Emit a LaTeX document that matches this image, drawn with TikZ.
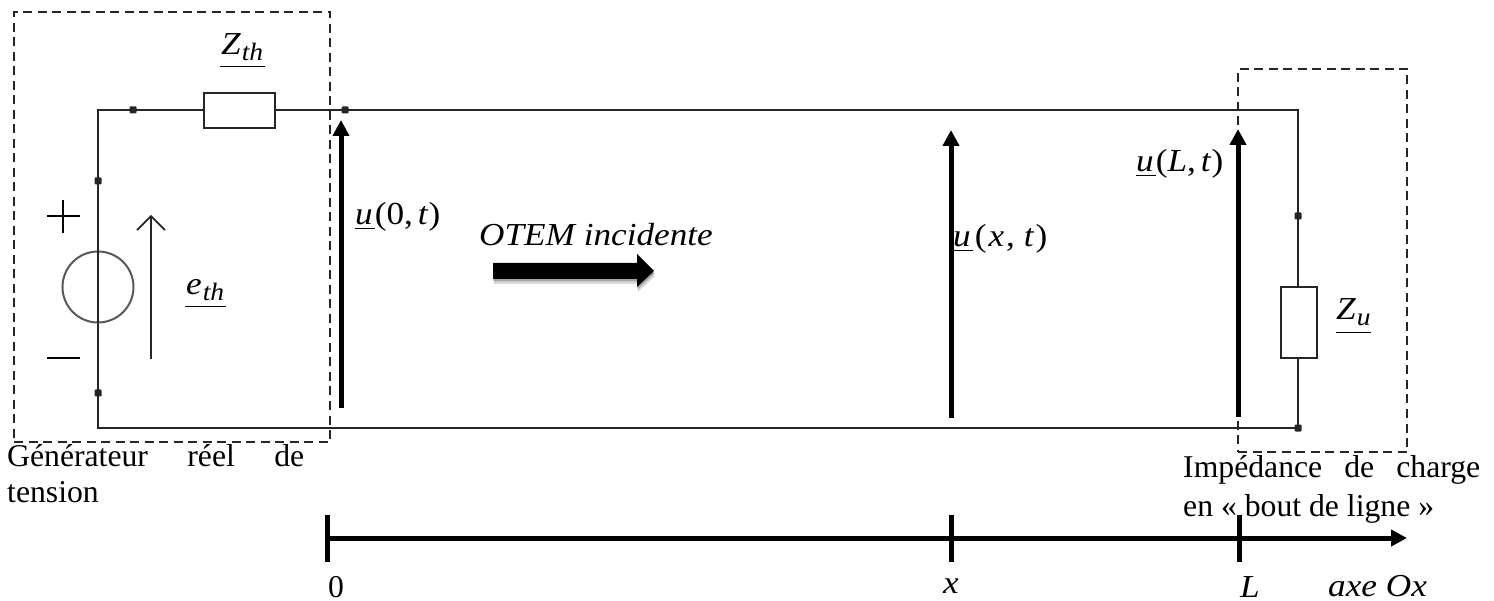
\documentclass[tikz,border=0pt]{standalone}
\usepackage{fontspec}
\setmainfont{Liberation Serif}
\newfontfamily\mfam[FakeStretch=1.1]{Liberation Serif}
\usetikzlibrary{arrows.meta}
\newcommand{\tsz}{\fontsize{31.7}{36}\selectfont}
\newcommand{\msz}{\mfam\fontsize{32}{36}\selectfont}
\newcommand{\ssz}{\fontsize{25}{28}\selectfont}
\newcommand{\vi}[1]{{\itshape #1}}
\newcommand{\subt}[1]{\raisebox{-6pt}{\ssz\itshape #1}}
\tikzset{
  x=1pt,y=-1pt,
  wire/.style={draw=black!85,line width=2.1pt},
  boxz/.style={draw=black!85,line width=2pt,fill=white,inner sep=0pt,minimum width=#1},
  dashbox/.style={draw=black!85,line width=1.9pt,dash pattern=on 9pt off 5.5pt},
  thick arrow/.style={line width=5pt,-{Triangle[length=16pt,width=16pt]}},
  thin arrow/.style={draw=black!85,line width=1.8pt,-{Straight Barb[length=14pt,width=28pt,line width=1.6pt]}},
  tickline/.style={line width=5pt},
  dotm/.style={rectangle,rounded corners=1pt,fill=black!85,inner sep=0pt,minimum size=7pt},
  txt/.style={anchor=base west,inner sep=0pt,font=\tsz},
  mth/.style={anchor=base west,inner sep=0pt,font=\msz},
  ulin/.style={line width=1.7pt}
}
\begin{document}
\begin{tikzpicture}
\useasboundingbox (0,0) rectangle (1494,601);
% dashed enclosures
\node[dashbox,minimum width=316pt,minimum height=430pt,inner sep=0pt] (gen) at (172,227) {};
\node[dashbox,minimum width=169pt,minimum height=383pt,inner sep=0pt] (chg) at (1322.5,260.5) {};
% wiring
\coordinate (tl) at (98,110); \coordinate (tr) at (1298,110);
\coordinate (br) at (1298,428); \coordinate (bl) at (98,428);
\draw[wire] (tl) -- (tr) -- (br) -- (bl) -- cycle;
\node[boxz=71pt,minimum height=35pt] (zth) at (239.5,110.5) {};
\node[boxz=36pt,minimum height=71pt] (zu) at (1298.5,322.5) {};
\node[draw=black!65,line width=2pt,circle,minimum size=71pt,inner sep=0pt] (src) at (98,287) {};
\draw[wire] (src.north) -- (src.south);
\foreach \n/\p in {d1/{133,110},d2/{345,110},d3/{98,181},d4/{98,393},d5/{1298,216},d6/{1298,428}}
  \node[dotm] (\n) at (\p) {};
% plus and minus
\coordinate (pa) at (47,216); \coordinate (pb) at (80,216);
\coordinate (pc) at (63,200); \coordinate (pd) at (63,233);
\coordinate (ma) at (47,358); \coordinate (mb) at (80,358);
\draw[line width=1.8pt] (pa) -- (pb) (pc) -- (pd) (ma) -- (mb);
% thin source arrow
\coordinate (ea) at (151,359); \coordinate (eb) at (151,215);
\draw[thin arrow] (ea) -- (eb);
% thick voltage arrows
\coordinate (u0a) at (341,408); \coordinate (u0b) at (341,120);
\coordinate (uxa) at (951,418); \coordinate (uxb) at (951,130);
\coordinate (uLa) at (1238,417); \coordinate (uLb) at (1238,129);
\draw[thick arrow] (u0a) -- (u0b);
\draw[thick arrow] (uxa) -- (uxb);
\draw[thick arrow] (uLa) -- (uLb);
% fat arrow
\fill[black!15] (494,268) -- (638,268) -- (638,259) -- (655,276) -- (638,292) -- (638,284) -- (494,284) -- cycle;
\fill[black!35] (493.5,265.5) -- (637.5,265.5) -- (637.5,256.5) -- (654.5,273.5) -- (637.5,289.5) -- (637.5,281.5) -- (493.5,281.5) -- cycle;
\fill (493,263) -- (637,263) -- (637,254) -- (654,271) -- (637,287) -- (637,279) -- (493,279) -- cycle;
% axis
\coordinate (ax0) at (327,538); \coordinate (ax1) at (1407,538);
\draw[line width=5pt,-{Triangle[length=16pt,width=16pt]}] (ax0) -- (ax1);
\coordinate (t0a) at (327,515); \coordinate (t0b) at (327,562);
\coordinate (t1a) at (951,515); \coordinate (t1b) at (951,562);
\coordinate (t2a) at (1239,515); \coordinate (t2b) at (1239,562);
\draw[tickline] (t0a) -- (t0b) (t1a) -- (t1b) (t2a) -- (t2b);
% math labels
\node[mth] (lzth) at (221,55) {\vi{Z}\kern1pt\subt{th}};
\coordinate (z1) at (220,66.5); \coordinate (z2) at (265,66.5); \draw[ulin] (z1) -- (z2);
\node[mth] (leth) at (186,295) {\vi{e}\kern1pt\subt{th}};
\coordinate (e1) at (185,306.5); \coordinate (e2) at (226,306.5); \draw[ulin] (e1) -- (e2);
\node[mth] (lu0) at (355,225) {\vi{u}\kern2pt(0,\kern5pt\vi{t}\kern1pt)};
\coordinate (a1) at (355,228.5); \coordinate (a2) at (375,228.5); \draw[ulin] (a1) -- (a2);
\node[mth] (lux) at (953,247) {\vi{u}\kern4pt(\kern2pt\vi{x}\kern2pt,\kern9pt\vi{t}\kern2pt)};
\coordinate (b1) at (953,250.5); \coordinate (b2) at (973,250.5); \draw[ulin] (b1) -- (b2);
\node[mth] (luL) at (1136,172) {\vi{u}\kern2pt(\vi{L},\kern5pt\vi{t}\kern1pt)};
\coordinate (c1) at (1136,175.5); \coordinate (c2) at (1156,175.5); \draw[ulin] (c1) -- (c2);
\node[mth] (lzu) at (1336,320) {\vi{Z}\kern1pt\subt{u}};
\coordinate (f1) at (1336,332.5); \coordinate (f2) at (1371,332.5); \draw[ulin] (f1) -- (f2);
\node[mth] (lotem) at (479,246) {\vi{OTEM incidente}};
\node[mth] (lx) at (943,593) {\vi{x}};
\node[mth] (lL) at (1240,597) {\vi{L}};
\node[mth] (lax) at (1328,596) {\vi{axe Ox}};
% plain text
\node[txt] (l0) at (328,597) {0};
\node[txt] (g1) at (7,466) {\makebox[297pt][s]{Générateur\hfill réel\hfill de}};
\node[txt] (g2) at (7,502) {tension};
\node[txt] (i1) at (1183,477) {\makebox[297pt][s]{Impédance\hfill de\hfill charge}};
\node[txt] (i2) at (1183,516) {en « bout de ligne »};
\end{tikzpicture}
\end{document}
